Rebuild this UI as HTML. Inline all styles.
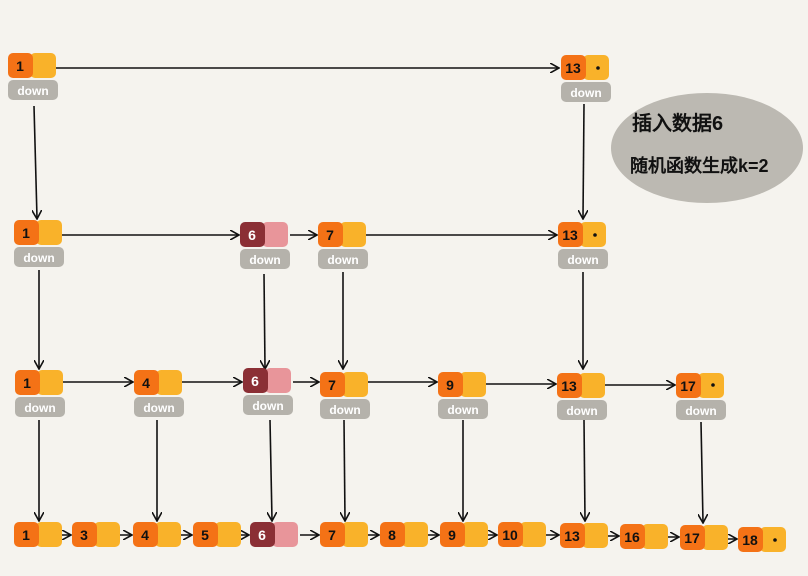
<!DOCTYPE html>
<html><head><meta charset="utf-8"><style>
html,body{margin:0;padding:0;background:#f5f3ee;}
svg{display:block}
text{font-family:"Liberation Sans",sans-serif;}
</style></head><body>
<svg width="808" height="576" viewBox="0 0 808 576" xmlns="http://www.w3.org/2000/svg">
<defs>
<marker id="a" markerWidth="10" markerHeight="10" refX="8" refY="5" orient="auto" markerUnits="userSpaceOnUse"><path d="M0,0 L9,5 L0,10" fill="none" stroke="#111" stroke-width="1.6"/></marker>
<g id="n"><rect x="22" y="0" width="26" height="25" rx="5" fill="#f9b22a"/><rect x="0" y="0" width="25" height="25" rx="5" fill="#f47216"/></g>
<g id="nd"><use href="#n"/><rect x="0" y="27" width="50" height="20" rx="5" fill="#b5b2ab"/><text x="25" y="42" font-size="12" fill="#fff" text-anchor="middle" font-weight="bold">down</text></g>
<g id="r"><rect x="22" y="0" width="26" height="25" rx="5" fill="#e8959a"/><rect x="0" y="0" width="25" height="25" rx="5" fill="#8b2f35"/></g>
<g id="rd"><use href="#r"/><rect x="0" y="27" width="50" height="20" rx="5" fill="#b5b2ab"/><text x="25" y="42" font-size="12" fill="#fff" text-anchor="middle" font-weight="bold">down</text></g>
</defs>
<ellipse cx="707" cy="148" rx="96" ry="55" fill="#bcb9b2"/>
<text x="632" y="130" font-size="20" font-weight="bold" fill="#111" font-family="'Liberation Sans','Noto Sans CJK SC',sans-serif">插入数据6</text>
<text x="630" y="172" font-size="18" font-weight="bold" fill="#111" font-family="'Liberation Sans','Noto Sans CJK SC',sans-serif">随机函数生成k=2</text>
<g stroke="#111" stroke-width="1.6" fill="none" marker-end="url(#a)">
<line x1="42" y1="68" x2="558" y2="68"/>
<line x1="48" y1="235" x2="238" y2="235"/>
<line x1="290" y1="235" x2="316" y2="235"/>
<line x1="352" y1="235" x2="556" y2="235"/>
<line x1="49" y1="382" x2="132" y2="382"/>
<line x1="168" y1="382" x2="241" y2="382"/>
<line x1="293" y1="382" x2="318" y2="382"/>
<line x1="354" y1="382" x2="436" y2="382"/>
<line x1="472" y1="384" x2="555" y2="384"/>
<line x1="591" y1="385" x2="674" y2="385"/>
<line x1="48" y1="535" x2="70" y2="535"/>
<line x1="106" y1="535" x2="131" y2="535"/>
<line x1="167" y1="535" x2="191" y2="535"/>
<line x1="227" y1="535" x2="248" y2="535"/>
<line x1="300" y1="535" x2="318" y2="535"/>
<line x1="354" y1="535" x2="378" y2="535"/>
<line x1="414" y1="535" x2="438" y2="535"/>
<line x1="474" y1="535" x2="496" y2="535"/>
<line x1="532" y1="535" x2="558" y2="535"/>
<line x1="594" y1="536" x2="618" y2="536"/>
<line x1="654" y1="537" x2="678" y2="537"/>
<line x1="714" y1="539" x2="736" y2="539"/>
<line x1="34" y1="106" x2="37" y2="218"/>
<line x1="584" y1="104" x2="583" y2="218"/>
<line x1="39" y1="270" x2="39" y2="368"/>
<line x1="264" y1="274" x2="265" y2="368"/>
<line x1="343" y1="272" x2="343" y2="368"/>
<line x1="583" y1="272" x2="583" y2="368"/>
<line x1="39" y1="420" x2="39" y2="520"/>
<line x1="157" y1="420" x2="157" y2="520"/>
<line x1="270" y1="420" x2="272" y2="520"/>
<line x1="344" y1="420" x2="345" y2="520"/>
<line x1="463" y1="420" x2="463" y2="520"/>
<line x1="584" y1="420" x2="585" y2="520"/>
<line x1="701" y1="422" x2="703" y2="522"/>
</g>
<g font-size="14" font-weight="bold" text-anchor="middle" fill="#111">
<use href="#nd" x="8" y="53"/><text x="20" y="71">1</text>
<use href="#nd" x="561" y="55"/><text x="573" y="73">13</text><circle cx="598" cy="68" r="1.8" fill="#111"/>
<use href="#nd" x="14" y="220"/><text x="26" y="238">1</text>
<use href="#rd" x="240" y="222"/><text x="252" y="240" fill="#fff">6</text>
<use href="#nd" x="318" y="222"/><text x="330" y="240">7</text>
<use href="#nd" x="558" y="222"/><text x="570" y="240">13</text><circle cx="595" cy="235" r="1.8" fill="#111"/>
<use href="#nd" x="15" y="370"/><text x="27" y="388">1</text>
<use href="#nd" x="134" y="370"/><text x="146" y="388">4</text>
<use href="#rd" x="243" y="368"/><text x="255" y="386" fill="#fff">6</text>
<use href="#nd" x="320" y="372"/><text x="332" y="390">7</text>
<use href="#nd" x="438" y="372"/><text x="450" y="390">9</text>
<use href="#nd" x="557" y="373"/><text x="569" y="391">13</text>
<use href="#nd" x="676" y="373"/><text x="688" y="391">17</text><circle cx="713" cy="385" r="1.8" fill="#111"/>
<use href="#n" x="14" y="522"/><text x="26" y="540">1</text>
<use href="#n" x="72" y="522"/><text x="84" y="540">3</text>
<use href="#n" x="133" y="522"/><text x="145" y="540">4</text>
<use href="#n" x="193" y="522"/><text x="205" y="540">5</text>
<use href="#r" x="250" y="522"/><text x="262" y="540" fill="#fff">6</text>
<use href="#n" x="320" y="522"/><text x="332" y="540">7</text>
<use href="#n" x="380" y="522"/><text x="392" y="540">8</text>
<use href="#n" x="440" y="522"/><text x="452" y="540">9</text>
<use href="#n" x="498" y="522"/><text x="510" y="540">10</text>
<use href="#n" x="560" y="523"/><text x="572" y="541">13</text>
<use href="#n" x="620" y="524"/><text x="632" y="542">16</text>
<use href="#n" x="680" y="525"/><text x="692" y="543">17</text>
<use href="#n" x="738" y="527"/><text x="750" y="545">18</text><circle cx="775" cy="540" r="1.8" fill="#111"/>
</g>
</svg>
</body></html>
